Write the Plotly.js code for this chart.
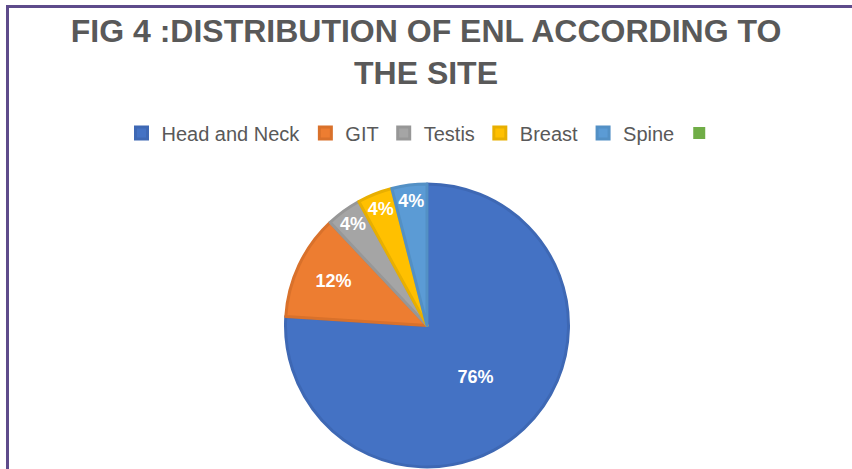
<!DOCTYPE html>
<html><head><meta charset="utf-8">
<script src="https://cdn.plot.ly/plotly-3.0.1.min.js"></script>
<style>html,body{margin:0;padding:0;background:#fff;}#wrap{position:relative;width:852px;height:469px;}#chart{width:852px;height:469px;}
#frame{position:absolute;left:6px;top:5px;width:846px;height:464px;border-top:3px solid #5e4b8b;border-left:3px solid #5e4b8b;pointer-events:none;box-sizing:border-box;}</style>
</head><body><div id="wrap"><div id="chart"></div><div id="frame"></div></div>
<script>
const categories = ["Head and Neck", "GIT", "Testis", "Breast", "Spine", " "];
const values = [76, 12, 4, 4, 4, 0];
const colors = ["#4472C4", "#ED7D31", "#A5A5A5", "#FFC000", "#5B9BD5", "#70AD47"];
const edgeColors = ["#3E68B4", "#D9712B", "#979797", "#E8AF00", "#5390C5", "rgba(0,0,0,0)"];
const labelTemplates = ["%{percent:.0%}", "%{percent:.0%}", "%{percent:.0%}", "%{percent:.0%}", "%{percent:.0%}", ""];
const titleText = "FIG 4 :DISTRIBUTION OF ENL ACCORDING TO<br>THE SITE";

const trace = {
  type: "pie",
  labels: categories,
  values: values,
  sort: false,
  direction: "clockwise",
  rotation: 0,
  marker: {colors: colors, line: {color: edgeColors, width: [3, 3, 3, 3, 3, 0]}},
  texttemplate: labelTemplates,
  textposition: "inside",
  insidetextorientation: "horizontal",
  textfont: {family: "Liberation Sans, sans-serif", size: 18, color: "#ffffff", weight: "bold"},
  hoverinfo: "label+percent",
  domain: {x: [(427-142)/852, (427+142)/852], y: [1-467/469, 1-184/469]}
};

const layout = {
  width: 852, height: 469,
  margin: {l: 0, r: 0, t: 0, b: 0},
  paper_bgcolor: "#ffffff",
  showlegend: true,
  uniformtext: {minsize: 18, mode: "show"},
  title: {
    text: titleText,
    font: {family: "Liberation Sans, sans-serif", size: 32, color: "#595959", weight: "bold"},
    x: 0.5, xanchor: "center", xref: "paper",
    y: 1-42/469, yanchor: "middle", yref: "container"
  },
  legend: {
    orientation: "h", x: 0.5, xanchor: "center", y: 1-133/469, yanchor: "middle",
    font: {family: "Liberation Sans, sans-serif", size: 20, color: "#595959"},
    traceorder: "normal", itemwidth: 30
  }
};

Plotly.newPlot("chart", [trace], layout, {displayModeBar: false, staticPlot: true});
</script></body></html>
